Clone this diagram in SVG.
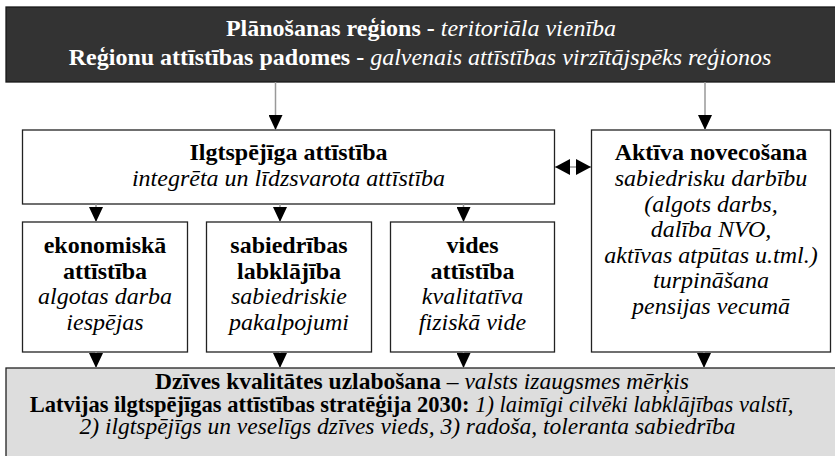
<svg xmlns="http://www.w3.org/2000/svg" width="835" height="456" viewBox="0 0 835 456">
<style>
  text { font-family: "Liberation Serif", "Times New Roman", serif; font-size: 24px; text-anchor: middle; fill: #000; }
  .b { font-weight: bold; }
  .i { font-style: italic; }
  .w { fill: #fff; }
  .s1 { font-size: 23.5px; }
  .s2 { font-size: 22.5px; }
  .box { fill: #fff; stroke: #222; stroke-width: 1.3; }
  .dark { fill: #333333; stroke: #1a1a1a; stroke-width: 1.3; }
  .grey { fill: #dddddd; stroke: #222; stroke-width: 1.3; }
  .con { stroke: #999; stroke-width: 1.5; fill: none; marker-end: url(#ah); }
</style>
<defs>
  <marker id="ah" viewBox="0 0 15 14" refX="15" refY="7" markerWidth="15" markerHeight="14" markerUnits="userSpaceOnUse" orient="auto">
    <path d="M0,0 L15,7 L0,14 z" fill="#000"/>
  </marker>
  <marker id="ahs" viewBox="0 0 15 16" refX="15" refY="8" markerWidth="15" markerHeight="16" markerUnits="userSpaceOnUse" orient="auto-start-reverse">
    <path d="M0,0 L15,8 L0,16 z" fill="#000"/>
  </marker>
</defs>

<g id="planosanas-regions">
  <rect class="dark" x="6" y="7" width="834" height="75"/>
  <text x="421" y="36" class="w"><tspan class="b">Plānošanas reģions - </tspan><tspan class="i">teritoriāla vienība</tspan></text>
  <text x="420" y="65" class="w"><tspan class="b">Reģionu attīstības padomes - </tspan><tspan class="i">galvenais attīstības virzītājspēks reģionos</tspan></text>
</g>

<g id="ilgtspejiga-attistiba">
  <rect class="box" x="22.5" y="130" width="532" height="74"/>
  <text x="288.5" y="160" class="b">Ilgtspējīga attīstība</text>
  <text x="288.5" y="186" class="i">integrēta un līdzsvarota attīstība</text>
</g>

<g id="aktiva-novecosana">
  <rect class="box" x="591.5" y="130" width="239" height="222"/>
  <text x="711" y="160" class="b">Aktīva novecošana</text>
  <text x="711" y="186" class="i">sabiedrisku darbību</text>
  <text x="711" y="211.5" class="i">(algots darbs,</text>
  <text x="711" y="237" class="i">dalība NVO,</text>
  <text x="711" y="262.5" class="i">aktīvas atpūtas u.tml.)</text>
  <text x="711" y="288" class="i">turpināšana</text>
  <text x="711" y="313.5" class="i">pensijas vecumā</text>
</g>

<g id="ekonomiska-attistiba">
  <rect class="box" x="22.5" y="222" width="165" height="130"/>
  <text x="105" y="253" class="b">ekonomiskā</text>
  <text x="105" y="278.5" class="b">attīstība</text>
  <text x="105" y="304" class="i">algotas darba</text>
  <text x="105" y="329.5" class="i">iespējas</text>
</g>

<g id="sabiedribas-labklajiba">
  <rect class="box" x="206.5" y="222" width="165" height="130"/>
  <text x="289" y="253" class="b">sabiedrības</text>
  <text x="289" y="278.5" class="b">labklājība</text>
  <text x="289" y="304" class="i">sabiedriskie</text>
  <text x="289" y="329.5" class="i">pakalpojumi</text>
</g>

<g id="vides-attistiba">
  <rect class="box" x="390.5" y="222" width="164" height="130"/>
  <text x="472.5" y="253" class="b">vides</text>
  <text x="472.5" y="278.5" class="b">attīstība</text>
  <text x="472.5" y="304" class="i">kvalitatīva</text>
  <text x="472.5" y="329.5" class="i">fiziskā vide</text>
</g>

<g id="dzives-kvalitate">
  <rect class="grey" x="6" y="368" width="834" height="100"/>
  <text x="422" y="389" class="s1"><tspan class="b">Dzīves kvalitātes uzlabošana</tspan> – <tspan class="i">valsts izaugsmes mērķis</tspan></text>
  <text x="411.5" y="411.5" class="s2"><tspan class="b">Latvijas ilgtspējīgas attīstības stratēģija 2030:</tspan><tspan class="i"> 1) laimīgi cilvēki labklājības valstī,</tspan></text>
  <text x="407.5" y="434" class="i s1">2) ilgtspējīgs un veselīgs dzīves vieds, 3) radoša, toleranta sabiedrība</text>
</g>

<g id="connectors">
  <line class="con" x1="275.5" y1="82" x2="275.5" y2="130"/>
  <line class="con" x1="705" y1="82" x2="705" y2="130"/>
  <line class="con" x1="96" y1="204" x2="96" y2="222"/>
  <line class="con" x1="280" y1="204" x2="280" y2="222"/>
  <line class="con" x1="463.5" y1="204" x2="463.5" y2="222"/>
  <line class="con" x1="96" y1="352" x2="96" y2="368"/>
  <line class="con" x1="280" y1="352" x2="280" y2="368"/>
  <line class="con" x1="463.5" y1="352" x2="463.5" y2="368"/>
  <line class="con" x1="704" y1="352" x2="704" y2="368"/>
  <line x1="555" y1="167" x2="591" y2="167" stroke="#999" stroke-width="1.5" marker-start="url(#ahs)" marker-end="url(#ahs)"/>
</g>
</svg>
